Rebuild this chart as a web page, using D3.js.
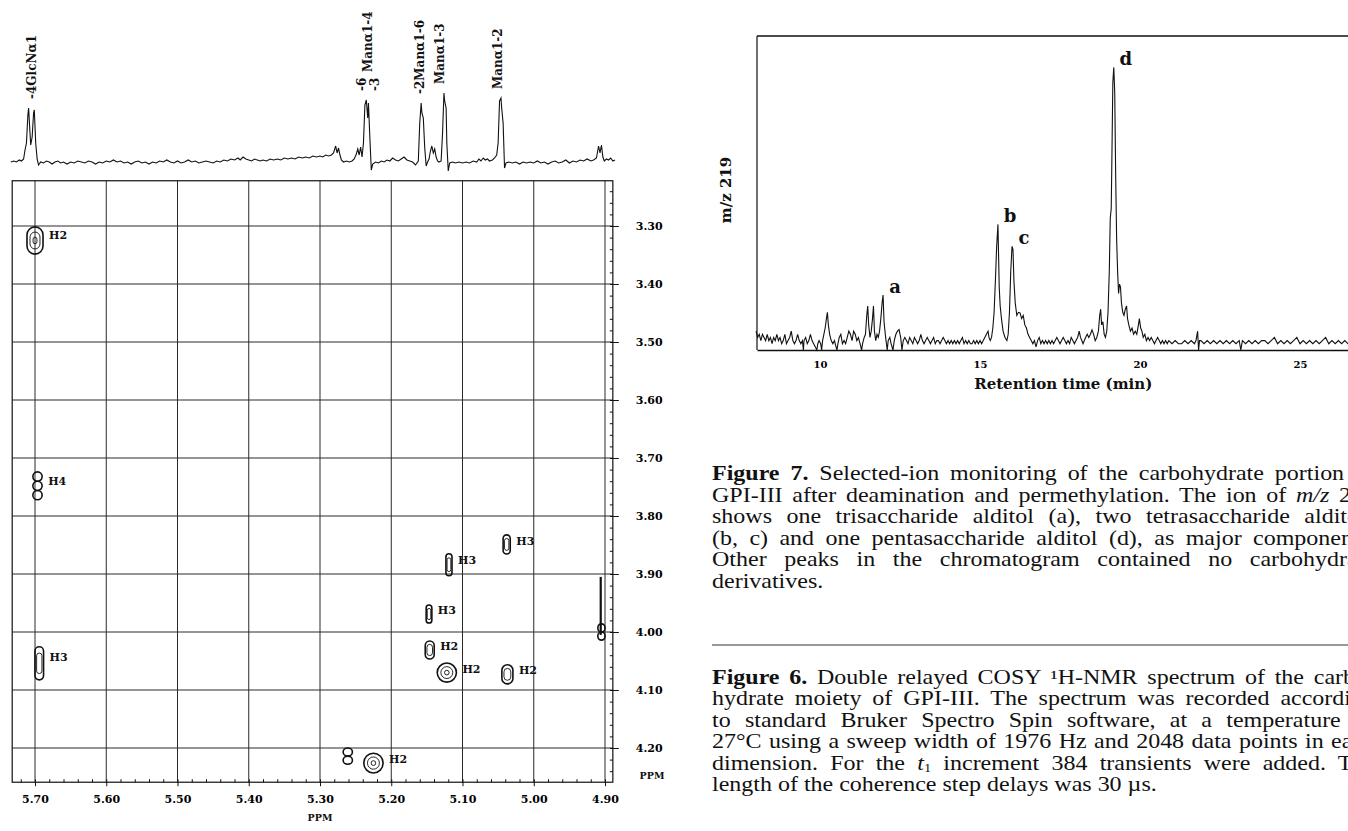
<!DOCTYPE html>
<html>
<head>
<meta charset="utf-8">
<script src="https://cdn.jsdelivr.net/npm/d3@7"></script>
<style>
  body { margin: 0; background: #fff; }
  .lab { font-family: "DejaVu Serif", serif; font-weight: bold; fill: #111; }
  .cap { font-family: "Liberation Serif", "Times New Roman", serif; fill: #111; }
  .axis path, .axis line { stroke: #111; }
</style>
</head>
<body>
<div id="chart"></div>
<script>
// ---------- data ----------
var ppmTicksF2 = [5.70, 5.60, 5.50, 5.40, 5.30, 5.20, 5.10, 5.00, 4.90];
var ppmTicksF1 = [3.30, 3.40, 3.50, 3.60, 3.70, 3.80, 3.90, 4.00, 4.10, 4.20];

// 1D proton trace above the COSY map: [ppm, height]
var spectrum1D = [
  [5.734,1],[5.730,2],[5.726,1],[5.722,3],[5.719,2],[5.716,4],[5.714,13],[5.712,20],[5.710,48],[5.709,55],
  [5.707,30],[5.706,18],[5.704,26],[5.702,50],[5.701,53],[5.699,20],[5.697,4],[5.695,-2],[5.692,1],[5.688,0],
  [5.684,2],[5.680,1],[5.676,-1],[5.672,1],[5.668,2],[5.664,0],[5.660,1],[5.655,-1],[5.650,1],[5.645,0],
  [5.640,2],[5.635,1],[5.630,0],[5.625,2],[5.620,1],[5.615,-1],[5.610,1],[5.605,0],[5.600,2],[5.595,1],
  [5.590,3],[5.585,1],[5.580,2],[5.575,0],[5.570,1],[5.565,-1],[5.560,1],[5.555,2],[5.550,0],[5.545,1],
  [5.540,-1],[5.535,1],[5.530,0],[5.525,2],[5.520,1],[5.515,3],[5.510,1],[5.505,0],[5.500,2],[5.495,0],
  [5.490,1],[5.485,3],[5.480,1],[5.475,2],[5.470,0],[5.465,1],[5.460,2],[5.455,1],[5.450,0],[5.445,2],
  [5.440,1],[5.435,3],[5.430,2],[5.425,4],[5.420,3],[5.415,5],[5.412,3],[5.408,6],[5.404,4],[5.400,3],
  [5.396,2],[5.392,4],[5.388,3],[5.384,2],[5.380,3],[5.375,2],[5.370,4],[5.365,3],[5.360,4],[5.355,3],
  [5.350,5],[5.345,4],[5.340,5],[5.335,4],[5.330,6],[5.325,5],[5.320,6],[5.315,5],[5.310,7],[5.305,6],
  [5.300,7],[5.296,6],[5.292,8],[5.288,7],[5.284,8],[5.281,10],[5.278,17],[5.276,10],[5.274,15],[5.272,8],
  [5.270,3],[5.267,1],[5.263,2],[5.259,1],[5.255,2],[5.252,4],[5.249,9],[5.247,14],[5.245,8],[5.243,16],
  [5.241,6],[5.239,20],[5.237,58],[5.235,63],[5.233,45],[5.232,60],[5.230,25],[5.228,-7],[5.226,-1],[5.222,1],
  [5.218,0],[5.214,2],[5.210,1],[5.206,3],[5.202,2],[5.198,5],[5.194,3],[5.190,2],[5.186,4],[5.182,6],
  [5.178,3],[5.174,2],[5.170,1],[5.166,-2],[5.162,2],[5.160,40],[5.158,60],[5.157,50],[5.155,45],[5.153,15],
  [5.151,-3],[5.149,1],[5.147,4],[5.145,12],[5.143,17],[5.141,10],[5.139,14],[5.137,6],[5.135,2],[5.133,1],
  [5.130,2],[5.128,30],[5.126,70],[5.125,62],[5.123,55],[5.122,20],[5.120,-8],[5.118,0],[5.114,1],[5.110,0],
  [5.105,1],[5.100,0],[5.095,1],[5.090,0],[5.085,2],[5.080,1],[5.077,4],[5.074,2],[5.071,5],[5.068,3],
  [5.065,4],[5.062,2],[5.058,3],[5.055,5],[5.052,8],[5.050,20],[5.048,62],[5.046,65],[5.045,55],[5.043,40],
  [5.041,-5],[5.039,0],[5.035,1],[5.030,0],[5.025,1],[5.020,-1],[5.015,1],[5.010,0],[5.005,1],[5.000,0],
  [4.995,2],[4.990,0],[4.985,1],[4.980,-1],[4.975,1],[4.970,2],[4.965,0],[4.960,1],[4.955,3],[4.950,0],
  [4.945,2],[4.940,1],[4.935,3],[4.930,2],[4.925,4],[4.920,2],[4.916,3],[4.912,5],[4.909,17],[4.907,10],
  [4.905,18],[4.903,6],[4.901,2],[4.898,4],[4.895,3],[4.892,5],[4.889,2],[4.886,3]
];

// anomeric signal names over the trace
var anomericNames = ["-4GlcNα1", "Manα1-4", "-2Manα1-6", "Manα1-3", "Manα1-2"];
var anomericPpm   = [5.704, 5.2326, 5.1596, 5.1316, 5.0498];

// cross peaks: f2 (horizontal ppm), f1 (vertical ppm), extent in ppm, label, lobes
var crossPeaks = [
  {f2: 5.700, f1: 3.325, w: 0.0225, h: 0.047, label: "H2", lobes: 1},
  {f2: 5.6965, f1: 3.748, w: 0.013, h: 0.048, label: "H4", lobes: 3},
  {f2: 5.694, f1: 4.054, w: 0.012, h: 0.057, label: "H3", lobes: 1},
  {f2: 5.038, f1: 3.849, w: 0.010, h: 0.033, label: "H3", lobes: 1},
  {f2: 5.119, f1: 3.884, w: 0.0085, h: 0.038, label: "H3", lobes: 1},
  {f2: 5.147, f1: 3.969, w: 0.008, h: 0.031, label: "H3", lobes: 1},
  {f2: 5.146, f1: 4.031, w: 0.0126, h: 0.031, label: "H2", lobes: 1},
  {f2: 5.122, f1: 4.070, w: 0.027, h: 0.033, label: "H2", lobes: 1},
  {f2: 5.037, f1: 4.073, w: 0.0155, h: 0.033, label: "H2", lobes: 1},
  {f2: 4.905, f1: 4.000, w: 0.010, h: 0.028, label: "", lobes: 2},
  {f2: 5.225, f1: 4.226, w: 0.027, h: 0.034, label: "H2", lobes: 1},
  {f2: 5.261, f1: 4.214, w: 0.013, h: 0.028, label: "", lobes: 2}
];
var ridgeF2 = 4.906, ridgeF1 = [3.905, 4.005];

// chromatogram, m/z 219 trace: [minutes, intensity]
var rtTicks = [10, 15, 20, 25];
var chromatogram = [
  [8.00,6],[8.05,4],[8.10,5],[8.15,3],[8.20,5],[8.25,4],[8.30,3],[8.35,5],[8.40,3],[8.45,4],
  [8.50,2],[8.55,4],[8.60,3],[8.65,5],[8.70,3],[8.75,4],[8.80,2],[8.85,3],[8.90,5],[8.95,2],
  [9.00,3],[9.05,4],[9.10,6],[9.15,3],[9.20,2],[9.25,3],[9.30,5],[9.35,3],[9.40,2],[9.45,3],
  [9.48,0],[9.50,3],[9.55,4],[9.60,2],[9.65,3],[9.70,5],[9.75,3],[9.80,2],[9.85,1],[9.90,0],
  [9.93,2],[9.97,3],[10.02,2],[10.05,0],[10.08,3],[10.12,5],[10.16,7],[10.20,10],[10.23,12],[10.26,8],
  [10.30,5],[10.35,3],[10.40,2],[10.45,3],[10.50,1],[10.53,0],[10.56,2],[10.60,4],[10.65,5],[10.70,2],
  [10.75,3],[10.80,2],[10.85,4],[10.90,6],[10.95,5],[11.00,3],[11.05,6],[11.10,5],[11.15,3],[11.20,4],
  [11.25,2],[11.30,0],[11.33,2],[11.38,4],[11.42,5],[11.46,11],[11.49,14],[11.52,8],[11.56,4],[11.60,6],
  [11.64,10],[11.67,14],[11.70,6],[11.74,3],[11.78,5],[11.82,4],[11.86,6],[11.90,10],[11.94,15],[11.97,17.5],
  [12.00,9],[12.05,4],[12.10,0],[12.13,3],[12.18,4],[12.22,2],[12.28,0],[12.32,3],[12.37,5],[12.42,6],
  [12.47,6.5],[12.52,4],[12.56,0],[12.60,3],[12.65,4],[12.70,3],[12.75,2],[12.80,4],[12.85,3],[12.90,2],
  [12.95,4],[13.00,3],[13.05,2],[13.10,3],[13.15,5],[13.20,3],[13.25,2],[13.30,3],[13.35,4],[13.40,3],
  [13.45,2],[13.50,3],[13.55,4],[13.60,2],[13.65,3],[13.70,3],[13.75,2],[13.80,3],[13.85,4],[13.90,3],
  [13.95,2],[14.00,3],[14.05,2],[14.10,3],[14.15,2],[14.20,3],[14.25,2],[14.30,3],[14.35,2],[14.40,3],
  [14.45,4],[14.50,2],[14.55,3],[14.60,2],[14.65,3],[14.70,2],[14.75,2],[14.80,3],[14.85,2],[14.90,3],
  [14.95,2],[15.00,3],[15.05,2],[15.10,3],[15.15,4],[15.20,5],[15.25,6],[15.28,4],[15.32,3],[15.36,4],
  [15.40,7],[15.44,12],[15.48,22],[15.52,33],[15.56,40],[15.58,30],[15.60,20],[15.63,14],[15.67,10],[15.72,6],
  [15.78,4],[15.84,3],[15.88,5],[15.92,12],[15.96,25],[16.00,33],[16.03,32],[16.06,22],[16.10,15],[16.15,11],
  [16.20,12],[16.25,11.8],[16.30,10],[16.35,11],[16.40,8],[16.45,7],[16.50,5],[16.55,4],[16.60,3],[16.65,2],
  [16.70,3],[16.75,1],[16.80,3],[16.85,4],[16.90,2],[16.95,3],[17.00,2],[17.05,3],[17.10,2],[17.15,3],
  [17.20,2],[17.25,3],[17.30,2],[17.35,3],[17.40,4],[17.45,3],[17.50,2],[17.55,3],[17.60,4],[17.65,3],
  [17.70,2],[17.75,3],[17.80,2],[17.85,4],[17.90,3],[17.95,2],[18.00,3],[18.05,4],[18.10,6],[18.14,4],
  [18.18,3],[18.22,2],[18.26,3],[18.30,4],[18.35,5],[18.40,4],[18.45,5],[18.50,6.4],[18.55,5],[18.60,3],
  [18.65,4],[18.70,6],[18.74,11],[18.77,13],[18.80,8],[18.84,9],[18.88,5],[18.92,4],[18.96,6],[19.00,12],
  [19.04,25],[19.07,42],[19.10,45],[19.12,60],[19.15,85],[19.18,90],[19.21,82],[19.24,55],[19.27,35],[19.30,25],
  [19.33,18],[19.36,21],[19.39,20],[19.42,15],[19.46,12],[19.50,11],[19.54,13],[19.58,14],[19.61,10],[19.65,8],
  [19.70,6],[19.75,7],[19.80,5],[19.85,6],[19.90,5],[19.95,8],[19.98,10],[20.02,7],[20.06,6],[20.10,4],
  [20.15,5],[20.20,3],[20.25,4],[20.30,3],[20.35,4],[20.40,3],[20.45,2],[20.50,3],[20.55,4],[20.60,3],
  [20.65,2],[20.70,3],[20.75,2],[20.80,3],[20.85,2],[20.90,3],[21.00,2],[21.10,3],[21.20,2],[21.30,2],
  [21.40,3],[21.50,2],[21.60,3],[21.70,2],[21.75,3],[21.80,6],[21.83,0],[21.86,3],[21.90,3],[22.00,2],
  [22.10,3],[22.20,2],[22.30,3],[22.40,2],[22.50,3],[22.60,2],[22.70,3],[22.80,2],[22.90,3],[23.00,2],
  [23.10,3],[23.15,0],[23.20,3],[23.30,2],[23.40,3],[23.50,2],[23.60,3],[23.70,2],[23.80,3],[23.90,3],
  [24.00,2],[24.10,3],[24.20,4],[24.30,2],[24.40,3],[24.50,2],[24.60,3],[24.70,2],[24.80,3],[24.90,4],
  [25.00,2],[25.10,3],[25.20,2],[25.30,3],[25.40,2],[25.50,3],[25.60,2],[25.70,3],[25.80,4],[25.90,2],
  [26.00,3],[26.10,2],[26.20,3],[26.30,2],[26.40,3],[26.50,2],[26.60,3]
];
var peakLetters = ["a", "b", "c", "d"];
var peakTimes = [11.97, 15.56, 16.00, 19.18];

// caption lines, as runs: b = bold, i = italic, sub = subscript
var caption7 = [
  [{t: "Figure 7.", b: 1}, {t: " Selected-ion monitoring of the carbohydrate portion of"}],
  [{t: "GPI-III after deamination and permethylation. The ion of "}, {t: "m/z", i: 1}, {t: " 219"}],
  [{t: "shows one trisaccharide alditol (a), two tetrasaccharide alditols"}],
  [{t: "(b, c) and one pentasaccharide alditol (d), as major components."}],
  [{t: "Other peaks in the chromatogram contained no carbohydrate"}],
  [{t: "derivatives."}]
];
var caption6 = [
  [{t: "Figure 6.", b: 1}, {t: " Double relayed COSY \u00B9H-NMR spectrum of the carbo-"}],
  [{t: "hydrate moiety of GPI-III. The spectrum was recorded according"}],
  [{t: "to standard Bruker Spectro Spin software, at a temperature of"}],
  [{t: "27\u00B0C using a sweep width of 1976 Hz and 2048 data points in each"}],
  [{t: "dimension. For the "}, {t: "t", i: 1}, {t: "1", sub: 1}, {t: " increment 384 transients were added. The"}],
  [{t: "length of the coherence step delays was 30 \u00B5s."}]
];

// ---------- drawing ----------
var svg = d3.select("#chart").append("svg")
  .attr("width", 1348).attr("height", 831)
  .style("background", "#fff");

// COSY map scales
var x = d3.scaleLinear().domain([5.70, 4.90]).range([35, 605]);
var y = d3.scaleLinear().domain([3.30, 4.20]).range([226, 748]);
var box = {left: x(5.732), right: x(4.889), top: y(3.222), bottom: y(4.259)};

var nmr = svg.append("g");

// grid
nmr.selectAll(".vgrid").data(ppmTicksF2).enter().append("line")
  .attr("x1", d => x(d)).attr("x2", d => x(d))
  .attr("y1", box.top).attr("y2", box.bottom)
  .attr("stroke", "#2a2a2a").attr("stroke-width", 1);
nmr.selectAll(".hgrid").data(ppmTicksF1).enter().append("line")
  .attr("y1", d => y(d)).attr("y2", d => y(d))
  .attr("x1", box.left).attr("x2", box.right)
  .attr("stroke", "#2a2a2a").attr("stroke-width", 1);
nmr.append("rect")
  .attr("x", box.left).attr("y", box.top)
  .attr("width", box.right - box.left).attr("height", box.bottom - box.top)
  .attr("fill", "none").attr("stroke", "#111").attr("stroke-width", 1.2);

// axes (right = F1, bottom = F2), with minor ticks inside the frame
var minorF1 = d3.range(3.24, 4.26, 0.02);
var minorF2 = d3.range(4.90, 5.73, 0.02);
var yAx = nmr.append("g").attr("class", "axis lab")
  .attr("transform", "translate(" + box.right + ",0)")
  .call(d3.axisRight(y).tickValues(ppmTicksF1).tickSize(6).tickPadding(17).tickFormat(d3.format(".2f")));
yAx.select(".domain").remove();
yAx.selectAll("text").attr("font-size", 11).attr("font-family", "DejaVu Serif").attr("font-weight", "bold");
var yMin = nmr.append("g").attr("class", "axis")
  .attr("transform", "translate(" + box.right + ",0)")
  .call(d3.axisLeft(y).tickValues(minorF1).tickSize(3).tickFormat(""));
yMin.select(".domain").remove();

var xAx = nmr.append("g").attr("class", "axis lab")
  .attr("transform", "translate(0," + box.bottom + ")")
  .call(d3.axisBottom(x).tickValues(ppmTicksF2).tickSize(4).tickPadding(9).tickFormat(d3.format(".2f")));
xAx.select(".domain").remove();
xAx.selectAll("text").attr("font-size", 11).attr("font-family", "DejaVu Serif").attr("font-weight", "bold");
var xMin = nmr.append("g").attr("class", "axis")
  .attr("transform", "translate(0," + box.bottom + ")")
  .call(d3.axisTop(x).tickValues(minorF2).tickSize(3).tickFormat(""));
xMin.select(".domain").remove();

nmr.append("text").attr("class", "lab").attr("x", 652).attr("y", 779)
  .attr("text-anchor", "middle").attr("font-size", 9.5).text("PPM");
nmr.append("text").attr("class", "lab").attr("x", 320).attr("y", 821)
  .attr("text-anchor", "middle").attr("font-size", 9.5).text("PPM");

// 1D trace on top
var yTop = d3.scaleLinear().domain([0, 100]).range([163, 63]);
var line1D = d3.line().x(d => x(d[0])).y(d => yTop(d[1]));
nmr.append("path").datum(spectrum1D)
  .attr("d", line1D).attr("fill", "none")
  .attr("stroke", "#111").attr("stroke-width", 1.1);

function peakTop(ppm) {
  var near = spectrum1D.filter(d => Math.abs(d[0] - ppm) < 0.006);
  return yTop(d3.max(near, d => d[1]));
}
anomericNames.forEach(function (name, i) {
  var px = x(anomericPpm[i]);
  var bottom = peakTop(anomericPpm[i]) - 9;
  if (name === "Manα1-4") {
    [["-6", -6], ["-3", 7]].forEach(function (s) {
      nmr.append("text").attr("class", "lab").attr("font-size", 12)
        .attr("transform", "translate(" + (px + s[1]) + "," + bottom + ") rotate(-90)")
        .attr("dy", "0.35em").text(s[0]);
    });
    bottom -= 19;
  }
  nmr.append("text").attr("class", "lab").attr("font-size", 12)
    .attr("transform", "translate(" + px + "," + bottom + ") rotate(-90)")
    .attr("dy", "0.35em").text(name);
});

// cross-peak contours
var cont = nmr.append("g").attr("fill", "none").attr("stroke", "#111");
crossPeaks.forEach(function (p) {
  var cx = x(p.f2), cy = y(p.f1);
  var w = Math.abs(x(p.f2 + p.w / 2) - x(p.f2 - p.w / 2));
  var h = y(p.f1 + p.h / 2) - y(p.f1 - p.h / 2);
  var levels = p.lobes > 1 ? 1 : (w * h > 300 ? 3 : 2);
  var lobeH = h / p.lobes;
  for (var k = 0; k < p.lobes; k++) {
    var ly = cy - h / 2 + lobeH * (k + 0.5);
    for (var L = 0; L < levels; L++) {
      var f = 1 - L * 0.38;
      var ww = w * f, hh = lobeH * f;
      cont.append("rect")
        .attr("x", cx - ww / 2).attr("y", ly - hh / 2)
        .attr("width", ww).attr("height", hh)
        .attr("rx", ww / 2).attr("ry", Math.min(ww, hh) / 2)
        .attr("stroke-width", L === 0 ? 1.6 : 0.9);
    }
  }
  if (p.label) {
    nmr.append("text").attr("class", "lab").attr("font-size", 11)
      .attr("x", cx + w / 2 + 6).attr("y", cy - h / 2 + h * 0.35)
      .attr("dominant-baseline", "middle").text(p.label);
  }
});
nmr.append("line")
  .attr("x1", x(ridgeF2)).attr("x2", x(ridgeF2))
  .attr("y1", y(ridgeF1[0])).attr("y2", y(ridgeF1[1]))
  .attr("stroke", "#111").attr("stroke-width", 2.2);

// ---------- chromatogram ----------
var chrom = svg.append("g");
var xr = d3.scaleLinear().domain([8.03, 26.5]).range([757, 1348]);
var yr = d3.scaleLinear().domain([0, 100]).range([350, 36]);

chrom.append("line").attr("x1", xr(8.03)).attr("x2", 1348)
  .attr("y1", yr(100)).attr("y2", yr(100)).attr("stroke", "#111").attr("stroke-width", 1.3);
chrom.append("line").attr("x1", xr(8.03)).attr("x2", xr(8.03))
  .attr("y1", yr(100)).attr("y2", yr(0)).attr("stroke", "#111").attr("stroke-width", 1.2);

var rAx = chrom.append("g").attr("class", "axis")
  .attr("transform", "translate(0," + yr(0) + ")")
  .call(d3.axisBottom(xr).tickValues(rtTicks).tickSize(0).tickSizeOuter(0).tickPadding(11));
rAx.select(".domain").attr("stroke-width", 1.3);
rAx.selectAll("text").attr("font-size", 10).attr("font-family", "DejaVu Serif").attr("font-weight", "bold");

chrom.append("path").datum(chromatogram)
  .attr("d", d3.line().x(d => xr(d[0])).y(d => yr(d[1])))
  .attr("fill", "none").attr("stroke", "#111").attr("stroke-width", 1.1);

peakLetters.forEach(function (s, i) {
  var near = chromatogram.filter(d => Math.abs(d[0] - peakTimes[i]) < 0.03);
  var top = yr(d3.max(near, d => d[1]));
  chrom.append("text").attr("class", "lab").attr("font-size", 18)
    .attr("x", xr(peakTimes[i]) + 12).attr("y", top - 2)
    .attr("text-anchor", "middle").text(s);
});

chrom.append("text").attr("class", "lab").attr("font-size", 15)
  .attr("x", xr(17.6)).attr("y", 389).attr("text-anchor", "middle")
  .text("Retention time (min)");
chrom.append("text").attr("class", "lab").attr("font-size", 15)
  .attr("transform", "translate(726,190) rotate(-90)")
  .attr("text-anchor", "middle").attr("dy", "0.35em").text("m/z 219");

// ---------- captions (the scan is a little wider than tall, so stretch) ----------
var stretch = 1.2;
function paragraph(lines, x0, y0, lead, right) {
  lines.forEach(function (runs, i) {
    var t = svg.append("text").attr("class", "cap")
      .attr("transform", "translate(" + x0 + "," + (y0 + i * lead) + ") scale(" + stretch + ",1)")
      .attr("font-size", 20);
    runs.forEach(function (r, j) {
      var s = t.append("tspan").text(r.t);
      if (r.b) s.attr("font-weight", "bold");
      if (r.i) s.attr("font-style", "italic");
      if (r.sub) s.attr("dy", 2.5).attr("font-size", 12);
      else if (j > 0 && runs[j - 1].sub) s.attr("dy", -2.5);
    });
    if (i < lines.length - 1) {
      var txt = runs.map(r => r.t).join("");
      var gaps = txt.split(" ").length - 1;
      var natural = t.node().getComputedTextLength();
      t.attr("word-spacing", Math.max(0, ((right - x0) / stretch - natural) / gaps));
    }
  });
}
paragraph(caption7, 712, 480, 21.5, 1375);
svg.append("line").attr("x1", 712).attr("x2", 1348).attr("y1", 645).attr("y2", 645)
  .attr("stroke", "#333").attr("stroke-width", 1.2);
paragraph(caption6, 712, 684, 21.4, 1375);
</script>
</body>
</html>
